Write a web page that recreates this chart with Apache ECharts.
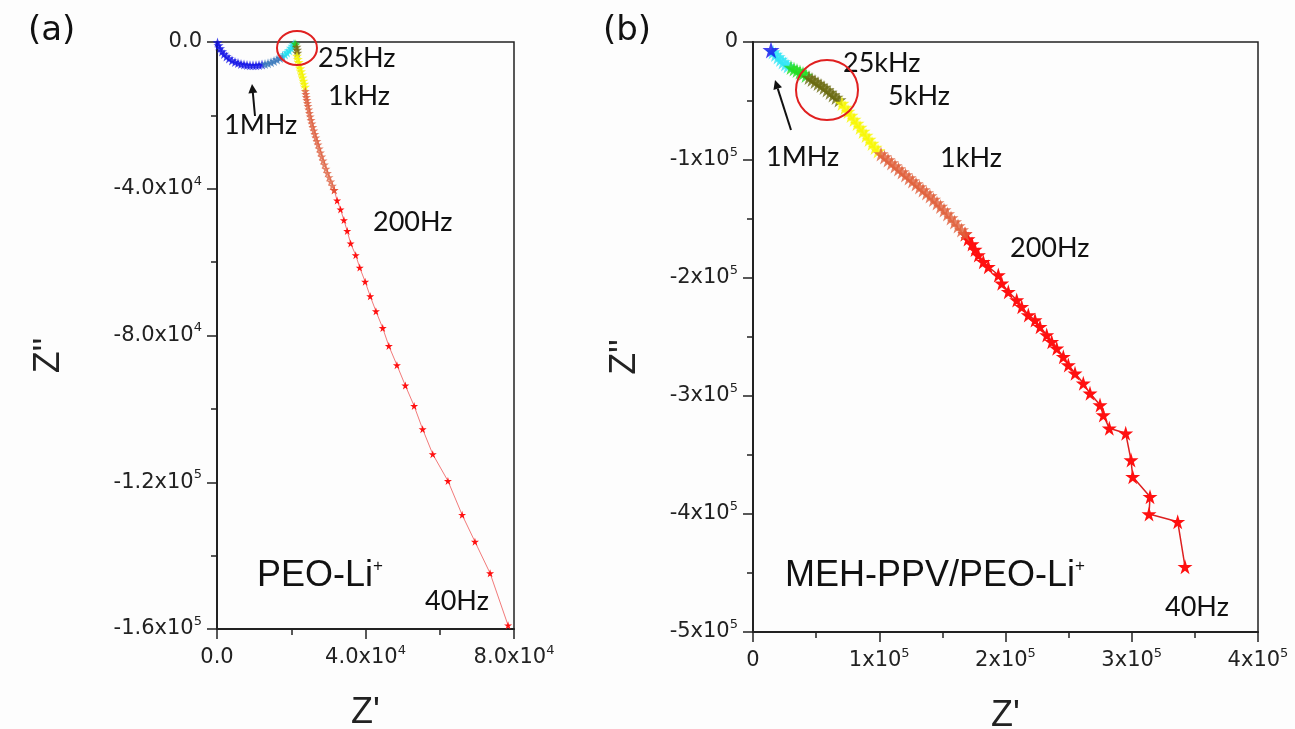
<!DOCTYPE html>
<html>
<head>
<meta charset="utf-8">
<title>Nyquist plots</title>
<script src="https://cdn.jsdelivr.net/npm/echarts@6/dist/echarts.min.js"></script>
<style>
  html, body { margin: 0; padding: 0; background: #fdfdfd; }
  #main { width: 1295px; height: 729px; }
</style>
</head>
<body>
<div id="main"></div>
<script>
// ---- panel (a): PEO-Li+ ----  [Z', Z'']
var aBlue = [[135,-136],[404,-954],[808,-1772],[1347,-2590],[1886,-3271],[2559,-3953],[3233,-4498],[4041,-5043],[4849,-5452],[5657,-5725],[6466,-5998],[7274,-6134],[8082,-6270],[8890,-6352],[9698,-6352],[10507,-6325],[11315,-6270],[12123,-6134]];
var aSteel = [[12931,-5998],[13739,-5806],[14548,-5534],[15356,-5179],[16164,-4770],[16972,-4361],[17646,-3898]];
var aCyan = [[18319,-3408],[18858,-2862],[19397,-2263],[19936,-1636],[20340,-1090],[20690,-627]];
var aGreen = [[21013,-409],[21283,-682]];
var aOlive = [[21418,-1363],[21552,-2181],[21633,-2999]];
var aYellow = [[21552,-3816],[21768,-4661],[21983,-5507],[22199,-6352],[22414,-7197],[22630,-8042],[22845,-8887],[23061,-9732],[23276,-10577],[23492,-11422],[23707,-12267]];
var aOrange = [[23788,-13357],[23923,-14175],[24057,-14993],[24192,-15811],[24354,-16629],[24515,-17446],[24704,-18401],[24893,-19355],[25108,-20309],[25324,-21263],[25566,-22217],[25809,-23171],[26078,-24125],[26347,-25079],[26617,-26033],[26913,-26987],[27209,-27942],[27533,-29032],[27856,-30122],[28206,-31213],[28556,-32303],[28934,-33394],[29337,-34566],[29742,-35711],[30173,-36856],[30631,-38028],[31089,-39173],[31574,-40345]];
var aRed = [[32355,-43208],[33271,-45634],[34187,-48551],[35076,-51495],[35992,-54903],[37366,-58092],[38444,-61499],[39899,-65316],[41273,-69296],[42808,-73385],[44640,-77965],[46284,-82845],[48466,-88079],[50729,-93639],[53100,-99201],[55390,-105525],[58111,-112340],[62206,-119646],[66031,-128887],[69480,-136193],[73560,-144800],[78400,-159000]];

// ---- panel (b): MEH-PPV/PEO-Li+ ----
var bBlue = [[14258,-6780]];
var bCyan = [[15842,-8475],[17822,-10594],[19803,-12713],[21783,-14831],[23763,-16950],[25743,-18645],[27724,-20340]];
var bGreen = [[30100,-21611],[32476,-22883],[34852,-24154],[37229,-25425],[39605,-26696],[41981,-28391]];
var bOlive = [[44358,-30086],[46734,-31781],[49110,-33476],[51487,-35171],[53863,-36866],[56239,-38561],[58615,-40680],[60992,-42799],[63368,-44918],[65744,-47036],[68121,-49155]];
var bYellow = [[70497,-52121],[72873,-55511],[75250,-58901],[77626,-62291],[80002,-65681],[82378,-69071],[84755,-72461],[87131,-75851],[89507,-79241],[91884,-82631],[94260,-86021],[96636,-89411],[99013,-92378]];
var bOrange = [[101389,-94920],[104161,-97463],[106934,-100005],[109706,-102548],[112478,-105090],[115251,-107633],[118023,-110175],[120795,-112718],[123568,-115260],[126340,-117803],[129112,-120345],[131885,-122888],[134657,-125430],[137429,-127973],[140202,-130515],[142974,-133481],[145746,-136448],[148519,-139414],[151291,-142380],[154063,-145770],[156836,-149160],[159608,-152550],[162381,-155940],[165153,-159330],[167925,-162720]];
var bRed = [[170302,-166958],[173470,-171195],[175846,-175856],[178460,-180518],[182420,-186196],[186381,-190433],[194302,-197468],[196995,-204502],[202223,-211625],[208876,-218655],[212837,-224333],[218065,-231368],[223372,-235605],[227333,-241283],[232640,-248318],[236600,-253996],[240561,-259589],[245789,-266708],[249749,-273743],[255056,-280777],[261630,-289252],[266938,-297727],[274859,-307643],[277473,-316118],[282225,-327389],[295216,-331627],[299414,-354255],[300760,-368408],[314464,-385358],[313672,-400020],[336404,-406546],[342186,-444683]];

// tick labels: [mantissa, exponent]
var aXLabels = [['0.0',''],['4.0x10','4'],['8.0x10','4']];
var aYLabels = [['0.0',''],['-4.0x10','4'],['-8.0x10','4'],['-1.2x10','5'],['-1.6x10','5']];
var bXLabels = [['0',''],['1x10','5'],['2x10','5'],['3x10','5'],['4x10','5']];
var bYLabels = [['0',''],['-1x10','5'],['-2x10','5'],['-3x10','5'],['-4x10','5'],['-5x10','5']];

var STAR = 'path://M50,0 L61,35 L98,35 L68,57 L79,91 L50,70 L21,91 L32,57 L2,35 L39,35 Z';
var AX = '#222';
var FONT = 'Liberation Sans';
var TICKFONT = 'DejaVu Sans';
var NOTE = 'Lato';

function fmt(labels, step) {
  return function (v) {
    var t = labels[Math.round(Math.abs(v) / step)];
    if (!t) return '';
    return t[1] ? '{n|' + t[0] + '}{s|' + t[1] + '}' : '{n|' + t[0] + '}';
  };
}
var tickRich = {
  n: { fontSize: 21, fontFamily: TICKFONT, color: '#222', lineHeight: 28 },
  s: { fontSize: 13, fontFamily: TICKFONT, color: '#222', lineHeight: 13, verticalAlign: 'top' }
};
var titleStyle = { fontSize: 36, fontFamily: FONT, color: '#222' };

function xAxisOf(grid, max, step, labels) {
  return {
    type: 'value', gridIndex: grid, min: 0, max: max, interval: step,
    name: "Z'", nameLocation: 'middle', nameGap: 66, nameTextStyle: titleStyle,
    axisLine: { show: true, onZero: false, lineStyle: { color: AX, width: 2 } },
    axisTick: { show: true, length: 10, lineStyle: { color: AX, width: 1.5 } },
    minorTick: { show: true, splitNumber: 2, length: 6, lineStyle: { color: AX, width: 1.5 } },
    axisLabel: { margin: 15, formatter: fmt(labels, step), rich: tickRich },
    splitLine: { show: false }
  };
}
function yAxisOf(grid, min, step, labels, gap) {
  return {
    type: 'value', gridIndex: grid, min: min, max: 0, interval: step,
    name: "Z''", nameLocation: 'middle', nameGap: gap, nameRotate: 90,
    nameTextStyle: Object.assign({ padding: [0, 40, 0, 0] }, titleStyle),
    axisLine: { show: true, onZero: false, lineStyle: { color: AX, width: 2 } },
    axisTick: { show: true, length: 10, lineStyle: { color: AX, width: 1.5 } },
    minorTick: { show: true, splitNumber: 2, length: 6, lineStyle: { color: AX, width: 1.5 } },
    axisLabel: { margin: 15, formatter: fmt(labels, step), rich: tickRich },
    splitLine: { show: false }
  };
}

function band(grid, data, color, size) {
  return {
    type: 'scatter', xAxisIndex: grid, yAxisIndex: grid, data: data,
    symbol: STAR, symbolSize: size, itemStyle: { color: color }, z: 3
  };
}
function trail(grid, data, color, size, lineColor, lineWidth) {
  return {
    type: 'line', xAxisIndex: grid, yAxisIndex: grid, data: data,
    symbol: STAR, symbolSize: size, showSymbol: true,
    itemStyle: { color: color }, lineStyle: { color: lineColor, width: lineWidth }, z: 2
  };
}

function note(x, y, text, size, family) {
  return {
    type: 'text', left: x, top: y,
    style: { text: text, fontSize: size || 27, fontFamily: family || NOTE, fill: '#111',
      rich: { sup: { fontSize: 17, fontFamily: family || NOTE, verticalAlign: 'top', lineHeight: 17 } } }
  };
}
function arrow(x1, y1, x2, y2) {
  var dx = x2 - x1, dy = y2 - y1, L = Math.sqrt(dx * dx + dy * dy);
  var ux = dx / L, uy = dy / L, h = 9, w = 4.5;
  var bx = x2 - ux * h, by = y2 - uy * h;
  return [
    { type: 'line', shape: { x1: x1, y1: y1, x2: bx, y2: by }, style: { stroke: '#111', lineWidth: 2 } },
    { type: 'polygon', shape: { points: [[x2, y2], [bx - uy * w, by + ux * w], [bx + uy * w, by - ux * w]] }, style: { fill: '#111' } }
  ];
}

var myChart = echarts.init(document.getElementById('main'));
var option = {
  backgroundColor: '#fdfdfd',
  animation: false,
  grid: [
    { left: 217, top: 42, width: 297, height: 587, outerBoundsMode: 'none', show: true, borderColor: AX, borderWidth: 1.5, backgroundColor: 'transparent' },
    { left: 753, top: 42, width: 505, height: 590, outerBoundsMode: 'none', show: true, borderColor: AX, borderWidth: 1.5, backgroundColor: 'transparent' }
  ],
  xAxis: [xAxisOf(0, 80000, 40000, aXLabels), xAxisOf(1, 400000, 100000, bXLabels)],
  yAxis: [yAxisOf(0, -160000, 40000, aYLabels, 150), yAxisOf(1, -500000, 100000, bYLabels, 110)],
  series: [
    trail(0, aOrange.slice(-1).concat(aRed), '#ff1010', 8, '#f27a7a', 1),
    band(0, aBlue, '#1414e6', 10),
    band(0, aSteel, '#3a78bc', 10),
    band(0, aCyan, '#22e0f0', 10),
    band(0, aGreen, '#22cc22', 9),
    band(0, aOlive, '#7a6a10', 10),
    band(0, aYellow, '#f4f400', 10),
    band(0, aOrange, '#dd6040', 9),
    trail(1, bOrange.slice(-1).concat(bRed), '#ff1010', 15, '#dd2020', 1.5),
    band(1, bCyan, '#33e6f5', 15),
    band(1, bGreen, '#22dd22', 15),
    band(1, bOlive, '#6a6a10', 15),
    band(1, bYellow, '#f7f700', 15),
    band(1, bOrange, '#e0603c', 15),
    band(1, bBlue, '#1010ee', 17)
  ],
  graphic: [
    note(28, 14, '(a)', 34, TICKFONT),
    note(603, 14, '(b)', 34, TICKFONT),
    // panel (a) notes
    { type: 'ellipse', shape: { cx: 297, cy: 48, rx: 20, ry: 17 }, style: { fill: 'none', stroke: '#e02020', lineWidth: 2 }, z: 10 },
    note(318, 45, '25kHz'),
    note(328, 83, '1kHz'),
    note(224, 112, '1MHz'),
    note(373, 209, '200Hz'),
    note(257, 558, 'PEO-Li{sup|+}', 36, FONT),
    note(425, 588, '40Hz'),
    // panel (b) notes
    { type: 'ellipse', shape: { cx: 827, cy: 90, rx: 31, ry: 30 }, style: { fill: 'none', stroke: '#e02020', lineWidth: 2 }, z: 10 },
    note(843, 50, '25kHz'),
    note(888, 83, '5kHz'),
    note(766, 144, '1MHz'),
    note(940, 145, '1kHz'),
    note(1010, 235, '200Hz'),
    note(785, 558, 'MEH-PPV/PEO-Li{sup|+}', 36, FONT),
    note(1165, 594, '40Hz')
  ].concat(arrow(255, 116, 252, 84), arrow(791, 130, 775, 80))
};
myChart.setOption(option);
</script>
</body>
</html>
